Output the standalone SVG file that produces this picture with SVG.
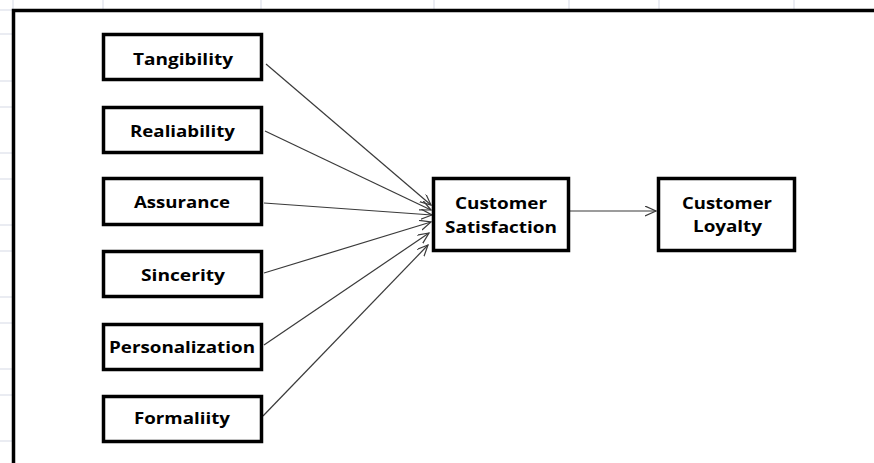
<svg xmlns="http://www.w3.org/2000/svg" width="874" height="463" viewBox="0 0 874 463">
  <style>
    .grid { stroke: #d5d9e5; stroke-width: 1; }
    .frame { fill: none; stroke: #000; stroke-width: 3.5; }
    .box { fill: #fff; stroke: #000; stroke-width: 3.5; }
    .label { font-family: "Open Sans", "Liberation Sans", sans-serif; font-weight: bold; font-size: 16px; fill: #000; text-anchor: middle; }
    .link { fill: none; stroke: #3a3a3a; stroke-width: 1.2; marker-end: url(#open-arrow); }
  </style>
  <defs>
    <marker id="open-arrow" markerUnits="userSpaceOnUse" markerWidth="14" markerHeight="12" refX="11" refY="5" orient="auto">
      <path d="M0,0 L11,5 L0,10" fill="none" stroke="#3a3a3a" stroke-width="1.2"/>
    </marker>
  </defs>

  <rect width="874" height="463" fill="#fff"/>

  <!-- worksheet gridlines outside the frame -->
  <g id="gridlines">
    <line class="grid" x1="13" y1="0" x2="13" y2="9"/>
    <line class="grid" x1="103" y1="0" x2="103" y2="9"/>
    <line class="grid" x1="261" y1="0" x2="261" y2="9"/>
    <line class="grid" x1="434" y1="0" x2="434" y2="9"/>
    <line class="grid" x1="569" y1="0" x2="569" y2="9"/>
    <line class="grid" x1="659" y1="0" x2="659" y2="9"/>
    <line class="grid" x1="794" y1="0" x2="794" y2="9"/>
    <line class="grid" x1="0" y1="10" x2="12" y2="10"/>
    <line class="grid" x1="0" y1="34" x2="12" y2="34"/>
    <line class="grid" x1="0" y1="81" x2="12" y2="81"/>
    <line class="grid" x1="0" y1="107" x2="12" y2="107"/>
    <line class="grid" x1="0" y1="153" x2="12" y2="153"/>
    <line class="grid" x1="0" y1="179" x2="12" y2="179"/>
    <line class="grid" x1="0" y1="225" x2="12" y2="225"/>
    <line class="grid" x1="0" y1="251" x2="12" y2="251"/>
    <line class="grid" x1="0" y1="297" x2="12" y2="297"/>
    <line class="grid" x1="0" y1="323" x2="12" y2="323"/>
    <line class="grid" x1="0" y1="369" x2="12" y2="369"/>
    <line class="grid" x1="0" y1="395" x2="12" y2="395"/>
    <line class="grid" x1="0" y1="441" x2="12" y2="441"/>
  </g>

  <!-- outer frame -->
  <path class="frame" d="M13.5,470 V10.5 H880"/>

  <!-- connectors -->
  <g id="connectors">
    <line class="link" x1="266" y1="64" x2="431" y2="205"/>
    <line class="link" x1="265" y1="131" x2="431" y2="210"/>
    <line class="link" x1="264" y1="203" x2="432" y2="215"/>
    <line class="link" x1="264" y1="273" x2="431" y2="222"/>
    <line class="link" x1="264" y1="345" x2="429" y2="233"/>
    <line class="link" x1="263" y1="416" x2="428" y2="245"/>
    <line class="link" x1="570" y1="211" x2="656" y2="211"/>
  </g>

  <g id="tangibility">
    <rect class="box" x="103.5" y="34.5" width="158" height="45"/>
    <text class="label" x="183" y="65" textLength="100" lengthAdjust="spacingAndGlyphs">Tangibility</text>
  </g>
  <g id="realiability">
    <rect class="box" x="103.5" y="107.5" width="158" height="45"/>
    <text class="label" x="182.5" y="136.5" textLength="105" lengthAdjust="spacingAndGlyphs">Realiability</text>
  </g>
  <g id="assurance">
    <rect class="box" x="103.5" y="178.5" width="158" height="46"/>
    <text class="label" x="182" y="208" textLength="96" lengthAdjust="spacingAndGlyphs">Assurance</text>
  </g>
  <g id="sincerity">
    <rect class="box" x="103.5" y="251.5" width="158" height="45"/>
    <text class="label" x="183" y="281" textLength="84" lengthAdjust="spacingAndGlyphs">Sincerity</text>
  </g>
  <g id="personalization">
    <rect class="box" x="103.5" y="324.5" width="158" height="45"/>
    <text class="label" x="182" y="353" textLength="146" lengthAdjust="spacingAndGlyphs">Personalization</text>
  </g>
  <g id="formaliity">
    <rect class="box" x="103.5" y="396.5" width="158" height="45"/>
    <text class="label" x="182" y="424" textLength="96" lengthAdjust="spacingAndGlyphs">Formaliity</text>
  </g>
  <g id="customer-satisfaction">
    <rect class="box" x="433.5" y="178.5" width="135" height="72"/>
    <text class="label" x="501" y="209" textLength="92" lengthAdjust="spacingAndGlyphs">Customer</text>
    <text class="label" x="501" y="233" textLength="112" lengthAdjust="spacingAndGlyphs">Satisfaction</text>
  </g>
  <g id="customer-loyalty">
    <rect class="box" x="658.5" y="178.5" width="136" height="72"/>
    <text class="label" x="727" y="209" textLength="90" lengthAdjust="spacingAndGlyphs">Customer</text>
    <text class="label" x="727.5" y="232" textLength="69" lengthAdjust="spacingAndGlyphs">Loyalty</text>
  </g>
</svg>
